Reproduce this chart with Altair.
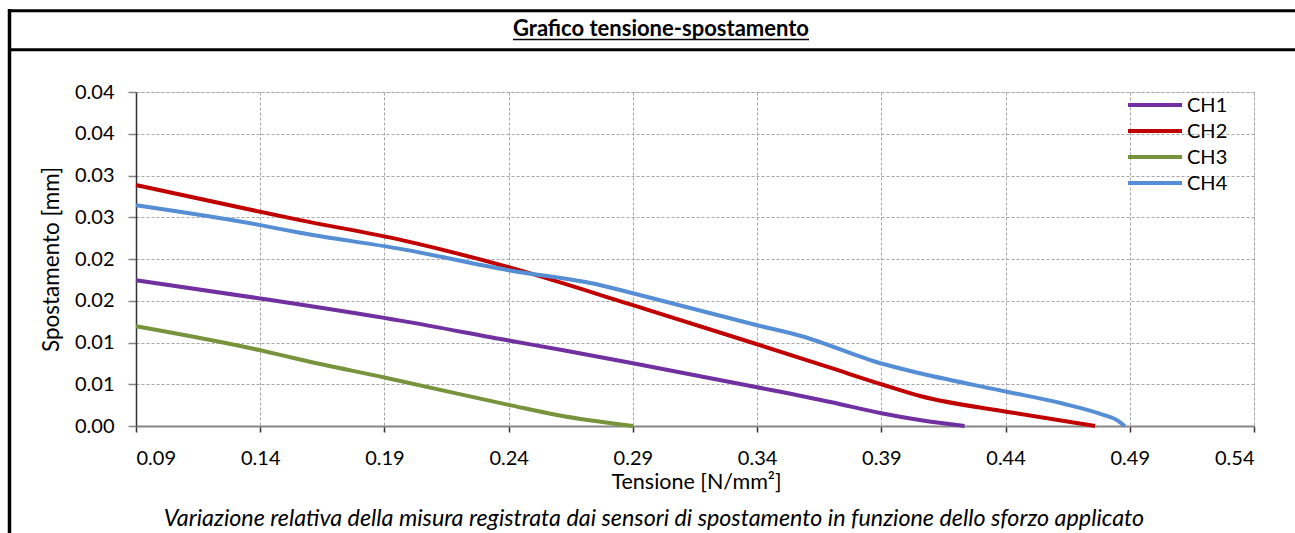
import altair as alt
import pandas as pd

# ---------------- data ----------------
series_names = ["CH1", "CH2", "CH3", "CH4"]
series_colors = ["#7030a0", "#c00000", "#77933c", "#558ed5"]

ch1_x = [0.09, 0.14, 0.156, 0.197, 0.24, 0.262, 0.29, 0.34, 0.37, 0.39, 0.406, 0.4235]
ch1_y = [0.01746, 0.01527, 0.01455, 0.01259, 0.01024, 0.00907, 0.00752, 0.00464, 0.00284, 0.00152, 0.00068, 0.0]

ch2_x = [0.09, 0.14, 0.156, 0.197, 0.24, 0.29, 0.34, 0.37, 0.39, 0.406, 0.441, 0.476]
ch2_y = [0.02885, 0.02565, 0.02466, 0.02226, 0.01902, 0.01447, 0.00979, 0.00692, 0.0050, 0.00356, 0.00168, 0.0]

ch3_x = [0.09, 0.14, 0.156, 0.19, 0.24, 0.26, 0.29]
ch3_y = [0.01195, 0.00907, 0.00796, 0.0058, 0.00253, 0.00128, 0.0]

ch4_x = [0.09, 0.14, 0.156, 0.197, 0.24, 0.277, 0.29, 0.34, 0.358, 0.39, 0.406, 0.441, 0.463, 0.479, 0.485, 0.488]
ch4_y = [0.02643, 0.02406, 0.02314, 0.02118, 0.01866, 0.01686, 0.0159, 0.01207, 0.01075, 0.00748, 0.00628,
         0.00408, 0.00269, 0.00137, 0.00068, 0.0]

x_ticks = [0.09, 0.14, 0.19, 0.24, 0.29, 0.34, 0.39, 0.44, 0.49, 0.54]
y_ticks = [0.0, 0.005, 0.01, 0.015, 0.02, 0.025, 0.03, 0.035, 0.04]
y_tick_labels = ["0.00", "0.01", "0.01", "0.02", "0.02", "0.03", "0.03", "0.04", "0.04"]

chart_title = "Grafico tensione-spostamento"
x_title = "Tensione [N/mm²]"
y_title = "Spostamento [mm]"
subtitle = ("Variazione relativa della misura registrata dai sensori di spostamento "
            "in funzione dello sforzo applicato")

# ---------------- build tables ----------------
rows = []
for name, xs, ys in zip(series_names, [ch1_x, ch2_x, ch3_x, ch4_x], [ch1_y, ch2_y, ch3_y, ch4_y]):
    for i, (xv, yv) in enumerate(zip(xs, ys)):
        rows.append({"series": name, "x": xv, "y": yv, "order": i})
df = pd.DataFrame(rows)
leg_df = pd.DataFrame({"series": series_names})

FONT = "Lato"
W, H = 1118, 334
PAD_L, PAD_T = 136, 92

label_expr = "[" + ",".join(f"'{s}'" for s in y_tick_labels) + "][round(datum.value/0.005)]"
color_scale = alt.Scale(domain=series_names, range=series_colors)

lines = alt.Chart(df).mark_line(interpolate="monotone", strokeWidth=4).encode(
    x=alt.X("x:Q",
            scale=alt.Scale(domain=[0.09, 0.54], nice=False, zero=False),
            axis=alt.Axis(values=x_ticks, format=".2f", title=x_title,
                          grid=True, gridDash=[3, 2], gridColor="#a6a6a6", gridWidth=1,
                          domainColor="#868686", domainWidth=2,
                          tickColor="#333333", tickSize=6, tickWidth=1.5,
                          labelFont=FONT, labelFontSize=20, labelColor="#000000",
                          labelBaseline="alphabetic", labelPadding=32.5,
                          titleFont=FONT, titleFontSize=21.5, titleFontWeight="normal",
                          titleColor="#000000", titleBaseline="alphabetic",
                          titleY=62, titleX=W / 2 + 1)),
    y=alt.Y("y:Q",
            scale=alt.Scale(domain=[0, 0.04], nice=False, zero=False),
            axis=alt.Axis(values=y_ticks, labelExpr=label_expr, title=y_title,
                          grid=True, gridDash=[3, 2], gridColor="#a6a6a6", gridWidth=1,
                          domainColor="#333333", domainWidth=1.5,
                          tickColor="#868686", tickSize=8, tickWidth=1.5,
                          labelFont=FONT, labelFontSize=20, labelColor="#000000",
                          labelPadding=14,
                          titleFont=FONT, titleFontSize=22.5, titleFontWeight="normal",
                          titleColor="#000000", titleBaseline="middle",
                          titleX=-85, titleY=H / 2)),
    color=alt.Color("series:N", scale=color_scale, legend=None),
    order="order:Q",
)

# manual legend (top-right, inside plot)
leg_y = alt.Y("series:N", scale=alt.Scale(type="point", domain=series_names, range=[13, 91], padding=0),
              axis=None)
leg_lines = alt.Chart(leg_df).mark_rule(strokeWidth=4).encode(
    x=alt.value(992), x2=alt.value(1046), y=leg_y,
    color=alt.Color("series:N", scale=color_scale, legend=None))
leg_text = alt.Chart(leg_df).mark_text(
    font=FONT, fontSize=20, color="black", align="left", baseline="middle", dy=1
).encode(x=alt.value(1051), y=leg_y, text="series:N")

# frame / decoration
frame_left = alt.Chart(pd.DataFrame({"k": [0]})).mark_rule(color="black", strokeWidth=3.5).encode(
    x=alt.value(9.5 - PAD_L), y=alt.value(9 - PAD_T), y2=alt.value(533 - PAD_T))
frame_top = alt.Chart(pd.DataFrame({"k": [0]})).mark_rule(color="black", strokeWidth=3).encode(
    x=alt.value(8 - PAD_L), x2=alt.value(1295 - PAD_L), y=alt.value(10.7 - PAD_T))
frame_sep = alt.Chart(pd.DataFrame({"k": [0]})).mark_rule(color="black", strokeWidth=3).encode(
    x=alt.value(8 - PAD_L), x2=alt.value(1295 - PAD_L), y=alt.value(49.7 - PAD_T))

title_txt = alt.Chart(pd.DataFrame({"t": [chart_title]})).mark_text(
    font=FONT, fontSize=22, fontWeight="bold", color="black", align="center", baseline="alphabetic"
).encode(x=alt.value(661 - PAD_L), y=alt.value(36 - PAD_T), text="t:N")
title_ul = alt.Chart(pd.DataFrame({"k": [0]})).mark_rule(color="black", strokeWidth=1.5).encode(
    x=alt.value(513 - PAD_L), x2=alt.value(809 - PAD_L), y=alt.value(39.5 - PAD_T))

sub_txt = alt.Chart(pd.DataFrame({"t": [subtitle]})).mark_text(
    font=FONT, fontSize=23.3, fontStyle="italic", color="black", align="center", baseline="alphabetic"
).encode(x=alt.value(654 - PAD_L), y=alt.value(526 - PAD_T), text="t:N")

chart = alt.layer(lines, leg_lines, leg_text, frame_left, frame_top, frame_sep,
                  title_txt, title_ul, sub_txt).resolve_scale(y="independent").properties(
    width=W, height=H,
    padding={"left": PAD_L, "top": PAD_T, "right": 1295 - PAD_L - W, "bottom": 533 - PAD_T - H},
    autosize=alt.AutoSizeParams(type="none"),
).configure_view(stroke=None).configure(background="white")

chart.save("out.html", embed_options={"renderer": "svg", "actions": False})
